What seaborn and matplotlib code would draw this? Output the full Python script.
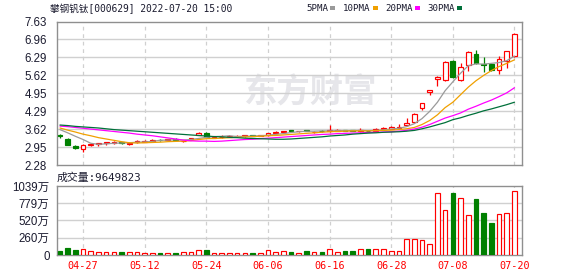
import numpy as np
import pandas as pd
import matplotlib
matplotlib.use("Agg")
import matplotlib.pyplot as plt
import seaborn as sns

# ---------------- data ----------------
dates = ["04-22", "04-25", "04-26", "04-27", "04-28", "04-29", "05-05", "05-06", "05-09", "05-10",
         "05-11", "05-12", "05-13", "05-16", "05-17", "05-18", "05-19", "05-20", "05-23", "05-24",
         "05-25", "05-26", "05-27", "05-30", "05-31", "06-01", "06-02", "06-06", "06-07", "06-08",
         "06-09", "06-10", "06-13", "06-14", "06-15", "06-16", "06-17", "06-20", "06-21", "06-22",
         "06-23", "06-24", "06-27", "06-28", "06-29", "06-30", "07-01", "07-04", "07-05", "07-06",
         "07-07", "07-08", "07-11", "07-12", "07-13", "07-14", "07-15", "07-18", "07-19", "07-20"]

open_ = [3.40, 3.25, 2.99, 2.86, 3.03, 3.06, 3.09, 3.10, 3.12, 3.08,
         3.13, 3.14, 3.19, 3.23, 3.21, 3.25, 3.16, 3.26, 3.41, 3.48,
         3.30, 3.31, 3.33, 3.35, 3.36, 3.38, 3.37, 3.39, 3.48, 3.50,
         3.57, 3.53, 3.58, 3.50, 3.56, 3.54, 3.56, 3.57, 3.57, 3.54,
         3.56, 3.56, 3.62, 3.64, 3.66, 3.76, 3.87, 4.39, 5.00, 5.50,
         5.45, 6.17, 5.44, 6.02, 6.43, 6.04, 6.03, 5.83, 6.15, 6.33]
high = [3.42, 3.27, 3.04, 3.05, 3.09, 3.11, 3.15, 3.17, 3.15, 3.15,
        3.22, 3.20, 3.25, 3.25, 3.26, 3.28, 3.19, 3.30, 3.52, 3.52,
        3.33, 3.38, 3.39, 3.38, 3.39, 3.40, 3.41, 3.48, 3.53, 3.56,
        3.59, 3.56, 3.60, 3.53, 3.59, 3.78, 3.63, 3.59, 3.60, 3.65,
        3.58, 3.66, 3.68, 3.72, 3.80, 4.05, 4.22, 4.61, 5.06, 5.60,
        6.15, 6.18, 6.08, 6.52, 6.57, 6.30, 6.08, 6.34, 6.54, 7.19]
low = [3.28, 3.03, 2.86, 2.78, 3.00, 3.00, 3.04, 3.05, 3.06, 3.04,
       3.10, 3.12, 3.17, 3.19, 3.19, 3.21, 3.12, 3.24, 3.39, 3.32,
       3.28, 3.30, 3.31, 3.34, 3.34, 3.35, 3.35, 3.37, 3.46, 3.49,
       3.54, 3.52, 3.54, 3.48, 3.52, 3.52, 3.53, 3.53, 3.53, 3.51,
       3.52, 3.54, 3.59, 3.62, 3.64, 3.72, 3.85, 4.33, 4.88, 5.22,
       5.43, 5.52, 5.40, 5.78, 6.05, 5.74, 5.80, 5.68, 5.90, 6.32]
close = [3.36, 3.04, 2.93, 3.04, 3.06, 3.10, 3.12, 3.13, 3.10, 3.11,
         3.19, 3.19, 3.21, 3.21, 3.24, 3.23, 3.18, 3.29, 3.49, 3.34,
         3.32, 3.33, 3.37, 3.36, 3.38, 3.37, 3.39, 3.46, 3.50, 3.53,
         3.56, 3.55, 3.56, 3.52, 3.55, 3.58, 3.58, 3.55, 3.56, 3.58,
         3.54, 3.64, 3.65, 3.70, 3.70, 3.84, 4.19, 4.60, 5.06, 5.57,
         6.13, 5.55, 5.93, 6.51, 6.08, 6.02, 5.81, 6.24, 6.53, 7.18]

volume_wan = [55, 100, 70, 95, 65, 50, 50, 50, 40, 50,
              50, 35, 25, 25, 25, 25, 40, 50, 80, 70,
              35, 35, 25, 25, 35, 25, 35, 80, 50, 65,
              40, 35, 55, 50, 40, 90, 50, 55, 55, 90,
              85, 95, 95, 65, 65, 245, 245, 230, 170, 935,
              680, 940, 860, 605, 850, 625, 475, 620, 635, 965]

ma5 = [3.60, 3.48, 3.35, 3.23, 3.09, 3.05, 3.07, 3.09, 3.10, 3.11,
       3.13, 3.14, 3.16, 3.20, 3.21, 3.22, 3.21, 3.23, 3.27, 3.31,
       3.34, 3.35, 3.37, 3.34, 3.35, 3.36, 3.37, 3.39, 3.42, 3.45,
       3.49, 3.52, 3.54, 3.54, 3.55, 3.55, 3.56, 3.56, 3.56, 3.57,
       3.56, 3.57, 3.59, 3.62, 3.65, 3.71, 3.82, 4.01, 4.28, 4.62,
       5.05, 5.38, 5.70, 5.98, 6.05, 6.04, 6.07, 6.10, 6.17, 6.34]
ma10 = [3.66, 3.58, 3.51, 3.43, 3.37, 3.30, 3.25, 3.20, 3.15, 3.11,
        3.10, 3.11, 3.12, 3.13, 3.15, 3.16, 3.17, 3.19, 3.23, 3.26,
        3.27, 3.28, 3.30, 3.31, 3.33, 3.34, 3.35, 3.37, 3.38, 3.40,
        3.42, 3.44, 3.46, 3.48, 3.50, 3.52, 3.53, 3.54, 3.55, 3.55,
        3.55, 3.56, 3.57, 3.58, 3.60, 3.63, 3.68, 3.79, 3.94, 4.15,
        4.42, 4.62, 4.90, 5.18, 5.42, 5.62, 5.80, 5.95, 6.07, 6.20]
ma20 = [3.73, 3.71, 3.68, 3.65, 3.62, 3.59, 3.56, 3.53, 3.50, 3.47,
        3.43, 3.40, 3.37, 3.33, 3.29, 3.25, 3.21, 3.18, 3.17, 3.17,
        3.16, 3.17, 3.19, 3.21, 3.23, 3.24, 3.26, 3.28, 3.30, 3.32,
        3.34, 3.36, 3.38, 3.40, 3.42, 3.43, 3.45, 3.46, 3.47, 3.48,
        3.49, 3.50, 3.51, 3.52, 3.54, 3.57, 3.62, 3.69, 3.79, 3.91,
        4.03, 4.12, 4.22, 4.36, 4.47, 4.59, 4.70, 4.83, 4.97, 5.16]
ma30 = [3.77, 3.75, 3.72, 3.70, 3.68, 3.66, 3.63, 3.60, 3.58, 3.56,
        3.54, 3.52, 3.50, 3.48, 3.46, 3.44, 3.42, 3.40, 3.38, 3.36,
        3.34, 3.33, 3.31, 3.30, 3.28, 3.27, 3.26, 3.25, 3.24, 3.24,
        3.25, 3.27, 3.29, 3.31, 3.33, 3.36, 3.38, 3.40, 3.43, 3.45,
        3.47, 3.48, 3.50, 3.51, 3.52, 3.54, 3.57, 3.63, 3.70, 3.78,
        3.86, 3.97, 4.04, 4.13, 4.21, 4.30, 4.37, 4.45, 4.53, 4.62]

price_ticks = [2.28, 2.95, 3.62, 4.29, 4.95, 5.62, 6.29, 6.96, 7.63]
price_tick_labels = ["2.28", "2.95", "3.62", "4.29", "4.95", "5.62", "6.29", "6.96", "7.63"]
vol_ticks = [0, 260, 520, 779, 1039]
vol_tick_labels = ["0", "260万", "520万", "779万", "1039万"]
date_labels = ["04-27", "05-12", "05-24", "06-06", "06-16", "06-28", "07-08", "07-20"]
ma_names = ["5PMA", "10PMA", "20PMA", "30PMA"]
title = "攀钢钒钛[000629] 2022-07-20 15:00"
volume_title = "成交量:9649823"
watermark = "东方财富"

# ---------------- style ----------------
sns.set_theme(style="white")
plt.rcParams['font.family'] = ['Liberation Sans', 'Noto Sans CJK SC', 'DejaVu Sans']

RED = "#ff0000"
GREEN = "#008000"
GRID = "#d0d0d0"
FRAME = "#8f8f8f"
TXT = "#1b1b2f"
MA_COLORS = ["#9a9a9a", "#f0a000", "#ff00ff", "#00703a"]
MONO = ['DejaVu Sans Mono', 'Noto Sans CJK SC']

df = pd.DataFrame({"date": dates, "open": open_, "high": high, "low": low, "close": close,
                   "vol": volume_wan, "ma5": ma5, "ma10": ma10, "ma20": ma20, "ma30": ma30})
df["x"] = np.arange(len(df))
df["up"] = df["close"] >= df["open"]

W, H = 578, 276
fig = plt.figure(figsize=(W / 100, H / 100), dpi=100)


def rect(l, t, r, b):
    return [l / W, 1 - b / H, (r - l) / W, (b - t) / H]


axp = fig.add_axes(rect(56.5, 21.5, 522, 165))
axv = fig.add_axes(rect(56.5, 186, 522, 255))

xmin, xmax = -0.45, len(df) - 0.02
tick_pos = [dates.index(d) for d in date_labels]

for ax in (axp, axv):
    ax.set_xlim(xmin, xmax)
    for p in tick_pos:
        ax.axvline(p, color=GRID, lw=0.9, ls=(0, (3, 3)), zorder=0)
    for s in ax.spines.values():
        s.set_color(FRAME)
        s.set_linewidth(1.0)
        s.set_visible(True)
    ax.set_facecolor("white")

# watermark
axp.text(0.545, 0.50, watermark, transform=axp.transAxes, fontsize=24, fontweight="bold",
         color="#e6e6ea", ha="center", va="center", family=['Noto Sans CJK SC'], zorder=0)

# ---- price panel ----
axp.set_ylim(price_ticks[0], price_ticks[-1])
for t in price_ticks[1:-1]:
    axp.axhline(t, color=GRID, lw=1.0, zorder=0)

colors = np.where(df["up"], RED, GREEN)
faces = np.where(df["up"], "white", GREEN)
axp.vlines(df["x"], df["low"], df["high"], colors=colors, lw=0.9, zorder=2)
body_h = np.maximum((df["close"] - df["open"]).abs(), 0.012)
body_b = np.minimum(df["close"], df["open"])
axp.bar(df["x"], body_h, bottom=body_b, width=0.62, color=faces, edgecolor=colors,
        linewidth=0.85, zorder=3)

for col, c in zip(["ma5", "ma10", "ma20", "ma30"], MA_COLORS):
    sns.lineplot(data=df, x="x", y=col, color=c, lw=0.9, ax=axp, zorder=4, legend=False)

axp.set_yticks(price_ticks)
axp.set_yticklabels(price_tick_labels)
axp.set_xticks([])
axp.set_xlabel("")
axp.set_ylabel("")
axp.tick_params(axis="y", length=0, pad=7, labelsize=8.3, labelcolor=TXT)

# ---- volume panel ----
axv.set_ylim(0, vol_ticks[-1])
for t in vol_ticks[1:-1]:
    axv.axhline(t, color=GRID, lw=1.0, zorder=0)
vfaces = np.where(df["up"], "white", GREEN)
axv.bar(df["x"], df["vol"], width=0.6, color=vfaces, edgecolor=colors, linewidth=0.85, zorder=3)
axv.set_yticks(vol_ticks)
axv.set_yticklabels(vol_tick_labels)
axv.tick_params(axis="y", length=0, pad=5, labelsize=8.3, labelcolor=TXT)
axv.set_xticks(tick_pos)
axv.set_xticklabels(date_labels)
for lbl in axv.get_xticklabels():
    lbl.set_color(RED)
    lbl.set_family(MONO)
    lbl.set_fontsize(7.3)
axv.tick_params(axis="x", length=0, pad=4)
axv.set_xlabel("")
axv.set_ylabel("")

# ---- header texts ----
fig.text(50 / W, 1 - 8.5 / H, title, fontsize=6.9, color=TXT, family=MONO, ha="left", va="center")
fig.text(57 / W, 1 - 177.5 / H, volume_title, fontsize=7.8, color=TXT, family=MONO,
         ha="left", va="center")

leg_text_x = [306, 343, 385, 427]
leg_box_x = [330, 373, 415, 457]
for name, c, tx, bx in zip(ma_names, MA_COLORS, leg_text_x, leg_box_x):
    fig.text(tx / W, 1 - 8.5 / H, name, fontsize=6.6, color=TXT, family=MONO, ha="left", va="center")
    fig.patches.append(plt.Rectangle((bx / W, 1 - 10 / H), 5 / W, 3.5 / H, transform=fig.transFigure,
                                     facecolor=c, edgecolor="none"))

fig.savefig("out.png", dpi=100)
